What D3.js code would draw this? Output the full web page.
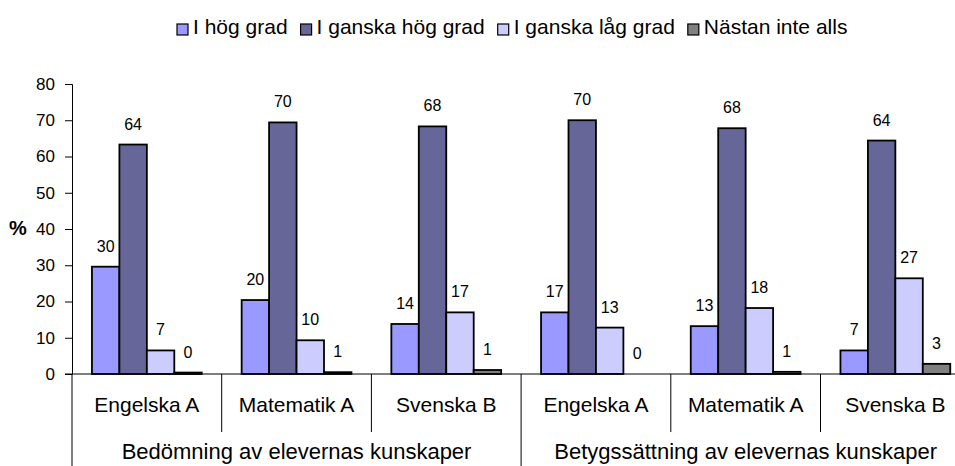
<!DOCTYPE html>
<html>
<head>
<meta charset="utf-8">
<script src="https://cdn.jsdelivr.net/npm/d3@7"></script>
<style>
  body { margin: 0; background: #fff; }
  svg { font-family: "Liberation Sans", Arial, sans-serif; }
</style>
</head>
<body>
<svg width="955" height="466"></svg>
<script>
  // data
  const groups = ['Bedömning av elevernas kunskaper', 'Betygssättning av elevernas kunskaper'];
  const subjects = ['Engelska A', 'Matematik A', 'Svenska B'];
  const series = ['I hög grad', 'I ganska hög grad', 'I ganska låg grad', 'Nästan inte alls'];
  const colors = ['#9999ff', '#666699', '#ccccff', '#808080'];

  // bar heights per category (6 categories: 2 groups x 3 subjects)
  const hogGrad      = [29.6, 20.4, 13.8, 17.0, 13.2, 6.5];
  const ganskaHog    = [63.3, 69.4, 68.3, 70.0, 67.8, 64.4];
  const ganskaLag    = [6.5, 9.3, 17.0, 12.8, 18.2, 26.4];
  const nastanInte   = [0.4, 0.5, 1.1, 0, 0.6, 2.8];
  // printed labels
  const hogGradLbl    = [30, 20, 14, 17, 13, 7];
  const ganskaHogLbl  = [64, 70, 68, 70, 68, 64];
  const ganskaLagLbl  = [7, 10, 17, 13, 18, 27];
  const nastanInteLbl = [0, 1, 1, 0, 1, 3];
  const yTicks = [0, 10, 20, 30, 40, 50, 60, 70, 80];

(function (d3) {
  'use strict';

  const values = [hogGrad, ganskaHog, ganskaLag, nastanInte];
  const labels = [hogGradLbl, ganskaHogLbl, ganskaLagLbl, nastanInteLbl];
  const categories = d3.range(groups.length * subjects.length);

  const svg = d3.select('svg');
  const plotLeft = 72, plotTop = 84, plotBottom = 374;
  const step = 149.7;

  const x0 = d3.scaleBand()
    .domain(categories)
    .range([plotLeft, plotLeft + step * categories.length]);

  const x1 = d3.scaleBand()
    .domain(d3.range(series.length))
    .range([0, x0.bandwidth()])
    .paddingInner(0)
    .paddingOuter(0.727);

  const y = d3.scaleLinear()
    .domain([0, 80])
    .range([plotBottom, plotTop]);

  // y axis
  const yAxis = d3.axisLeft(y)
    .tickValues(yTicks)
    .tickSize(7)
    .tickPadding(10);

  const yAxisG = svg.append('g')
    .attr('transform', `translate(${plotLeft},0)`)
    .call(yAxis);
  yAxisG.select('.domain').attr('stroke', '#000');
  yAxisG.selectAll('.tick line').attr('stroke', '#000');
  yAxisG.selectAll('.tick text')
    .attr('font-size', 17)
    .attr('font-family', '"Liberation Sans", Arial, sans-serif')
    .attr('fill', '#000');

  svg.append('text')
    .attr('x', 9)
    .attr('y', y(40) + 6)
    .attr('font-size', 20)
    .attr('font-weight', 'bold')
    .text('%');

  // bars
  const catG = svg.selectAll('.cat').data(categories)
    .enter().append('g')
      .attr('class', 'cat')
      .attr('transform', d => `translate(${x0(d)},0)`);

  catG.selectAll('rect')
    .data(c => series.map((s, i) => ({ i, v: values[i][c] })).filter(d => d.v > 0))
    .enter().append('rect')
      .attr('x', d => x1(d.i))
      .attr('y', d => y(d.v))
      .attr('width', x1.bandwidth())
      .attr('height', d => y(0) - y(d.v))
      .attr('fill', d => colors[d.i])
      .attr('stroke', '#000')
      .attr('stroke-width', 1.8);

  catG.selectAll('text')
    .data(c => series.map((s, i) => ({ i, v: values[i][c], l: labels[i][c] })))
    .enter().append('text')
      .attr('x', d => x1(d.i) + x1.bandwidth() / 2)
      .attr('y', d => y(d.v) - 15)
      .attr('text-anchor', 'middle')
      .attr('font-size', 16)
      .text(d => d.l);

  // x axis line
  svg.append('line')
    .attr('x1', plotLeft - 7).attr('x2', x0.range()[1])
    .attr('y1', plotBottom).attr('y2', plotBottom)
    .attr('stroke', '#000');

  // separators below the axis
  const boundaries = d3.range(categories.length + 1);
  svg.selectAll('.sep').data(boundaries)
    .enter().append('line')
      .attr('class', 'sep')
      .attr('x1', d => plotLeft + step * d)
      .attr('x2', d => plotLeft + step * d)
      .attr('y1', plotBottom)
      .attr('y2', d => d % subjects.length === 0 ? 466 : 432)
      .attr('stroke', '#000');

  // subject labels
  svg.selectAll('.subj').data(categories)
    .enter().append('text')
      .attr('class', 'subj')
      .attr('x', d => x0(d) + x0.bandwidth() / 2)
      .attr('y', 412)
      .attr('text-anchor', 'middle')
      .attr('font-size', 21)
      .text(d => subjects[d % subjects.length]);

  // group labels
  svg.selectAll('.grp').data(groups)
    .enter().append('text')
      .attr('class', 'grp')
      .attr('x', (d, i) => plotLeft + step * subjects.length * (i + 0.5))
      .attr('y', 459)
      .attr('text-anchor', 'middle')
      .attr('font-size', 22)
      .text(d => d);

  // legend
  const legend = svg.append('g').attr('transform', 'translate(177,0)');
  let lx = 0;
  series.forEach((s, i) => {
    const item = legend.append('g').attr('transform', `translate(${lx},0)`);
    item.append('rect')
      .attr('x', 0).attr('y', 24)
      .attr('width', 11).attr('height', 11)
      .attr('fill', colors[i])
      .attr('stroke', '#000')
      .attr('stroke-width', 1.2);
    const t = item.append('text')
      .attr('x', 16).attr('y', 34)
      .attr('font-size', 21)
      .text(s);
    lx += 16 + t.node().getComputedTextLength() + 13;
  });

}(d3));
</script>
</body>
</html>
